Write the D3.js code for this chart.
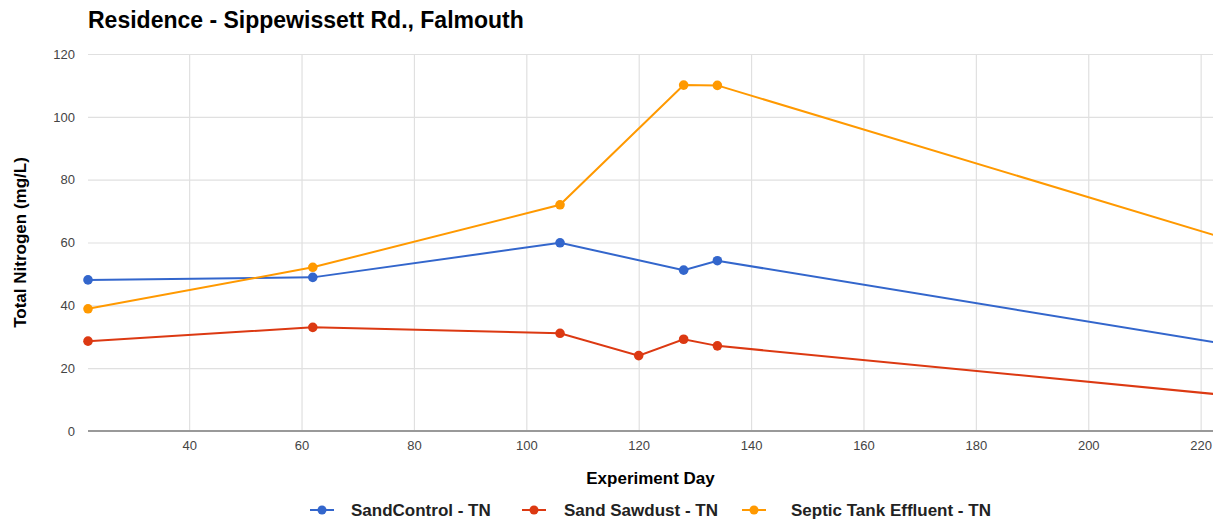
<!DOCTYPE html>
<html>
<head>
<meta charset="utf-8">
<script src="https://cdn.jsdelivr.net/npm/d3@7"></script>
<style>
  body { margin: 0; background: #fff; }
  text { font-family: "Liberation Sans", Arial, sans-serif; }
</style>
</head>
<body>
<div id="chart"></div>
<script>
// experiment days, shared by every series
const days = [22, 62, 106, 120, 128, 134, 250];

// TN values (mg/L), null where a series has no sample that day
const sandControl = [48.1, 48.9, 59.9, null, 51.2, 54.2, 20.2];
const sandSawdust = [28.6, 33.0, 31.1, 24.0, 29.2, 27.1, 7.0];
const septicTank = [38.9, 52.1, 72.0, null, 110.1, 110.0, 47.5];

const seriesNames = ['SandControl - TN', 'Sand Sawdust - TN', 'Septic Tank Effluent - TN'];
const seriesColors = ['#3366cc', '#dc3912', '#ff9900'];
const yTicks = [0, 20, 40, 60, 80, 100, 120];
const xTicks = [40, 60, 80, 100, 120, 140, 160, 180, 200, 220];

let width = 1213, height = 521,
  margin = {top: 54, right: 0, bottom: 90, left: 88},
  w = width - margin.left - margin.right,
  h = height - margin.top - margin.bottom;

let svg = d3.select('#chart').append('svg')
  .attr('width', width)
  .attr('height', height);

let x = d3.scaleLinear().domain([22, 222.2]).range([0, w]),
  y = d3.scaleLinear().domain([0, 120]).range([h, 0]);

svg.append('defs').append('clipPath').attr('id', 'plot-clip')
  .append('rect')
  .attr('x', -6).attr('y', -6)
  .attr('width', w + 6).attr('height', h + 12);

let g = svg.append('g')
  .attr('transform', 'translate(' + margin.left + ',' + margin.top + ')');

// gridlines
g.append('g')
  .call(d3.axisLeft(y).tickValues(yTicks).tickSize(-w).tickFormat(''))
  .call(s => s.select('.domain').remove())
  .selectAll('line').attr('stroke', '#e0e0e0').attr('stroke-width', 1.2);

g.append('g')
  .attr('transform', 'translate(0,' + h + ')')
  .call(d3.axisBottom(x).tickValues(xTicks).tickSize(-h).tickFormat(''))
  .call(s => s.select('.domain').remove())
  .selectAll('line').attr('stroke', '#e0e0e0').attr('stroke-width', 1.2);

// tick labels
g.append('g')
  .call(d3.axisLeft(y).tickValues(yTicks).tickSize(0).tickPadding(13))
  .call(s => s.select('.domain').remove())
  .selectAll('text')
  .attr('fill', '#444').style('font-size', '13px')
  .style('font-family', '"Liberation Sans", Arial, sans-serif');

g.append('g')
  .attr('transform', 'translate(0,' + h + ')')
  .call(d3.axisBottom(x).tickValues(xTicks).tickSize(0).tickPadding(10))
  .call(s => s.select('.domain').remove())
  .selectAll('text')
  .attr('fill', '#444').style('font-size', '13px')
  .style('font-family', '"Liberation Sans", Arial, sans-serif');

// baseline
g.append('line')
  .attr('x1', 0).attr('x2', w)
  .attr('y1', y(0)).attr('y2', y(0))
  .attr('stroke', '#999').attr('stroke-width', 2);

let series = [sandControl, sandSawdust, septicTank].map((vals, i) => ({
  name: seriesNames[i],
  color: seriesColors[i],
  points: days.map((d, j) => ({day: d, value: vals[j]})).filter(p => p.value !== null)
}));

let line = d3.line()
  .x(d => x(d.day))
  .y(d => y(d.value));

let plot = g.append('g').attr('clip-path', 'url(#plot-clip)');

series.forEach(s => {
  plot.append('path')
    .datum(s.points)
    .attr('fill', 'none')
    .attr('stroke', s.color)
    .attr('stroke-width', 2)
    .attr('d', line);

  plot.selectAll(null)
    .data(s.points)
    .enter()
      .append('circle')
      .attr('cx', d => x(d.day))
      .attr('cy', d => y(d.value))
      .attr('r', 4.8)
      .attr('fill', s.color);
});

// titles
svg.append('text')
  .attr('x', 88).attr('y', 28)
  .style('font-size', '23px').style('font-weight', 'bold')
  .attr('fill', '#000')
  .text('Residence - Sippewissett Rd., Falmouth');

svg.append('text')
  .attr('transform', 'translate(26,' + (margin.top + h / 2) + ') rotate(-90)')
  .attr('text-anchor', 'middle')
  .style('font-size', '17px').style('font-weight', 'bold')
  .attr('fill', '#000')
  .text('Total Nitrogen (mg/L)');

svg.append('text')
  .attr('x', margin.left + w / 2).attr('y', 484)
  .attr('text-anchor', 'middle')
  .style('font-size', '17px').style('font-weight', 'bold')
  .attr('fill', '#000')
  .text('Experiment Day');

// legend
let legendX = [310, 522, 742];
let legend = svg.append('g').attr('transform', 'translate(0,510)');

series.forEach((s, i) => {
  let item = legend.append('g').attr('transform', 'translate(' + legendX[i] + ',0)');
  item.append('line')
    .attr('x1', 0).attr('x2', 24)
    .attr('stroke', s.color).attr('stroke-width', 2);
  item.append('circle')
    .attr('cx', 12).attr('r', 4.5)
    .attr('fill', s.color);
  item.append('text')
    .attr('x', [41, 42, 49][i]).attr('y', 6)
    .style('font-size', '17px').style('font-weight', 'bold')
    .attr('fill', '#222')
    .text(s.name);
});
</script>
</body>
</html>
